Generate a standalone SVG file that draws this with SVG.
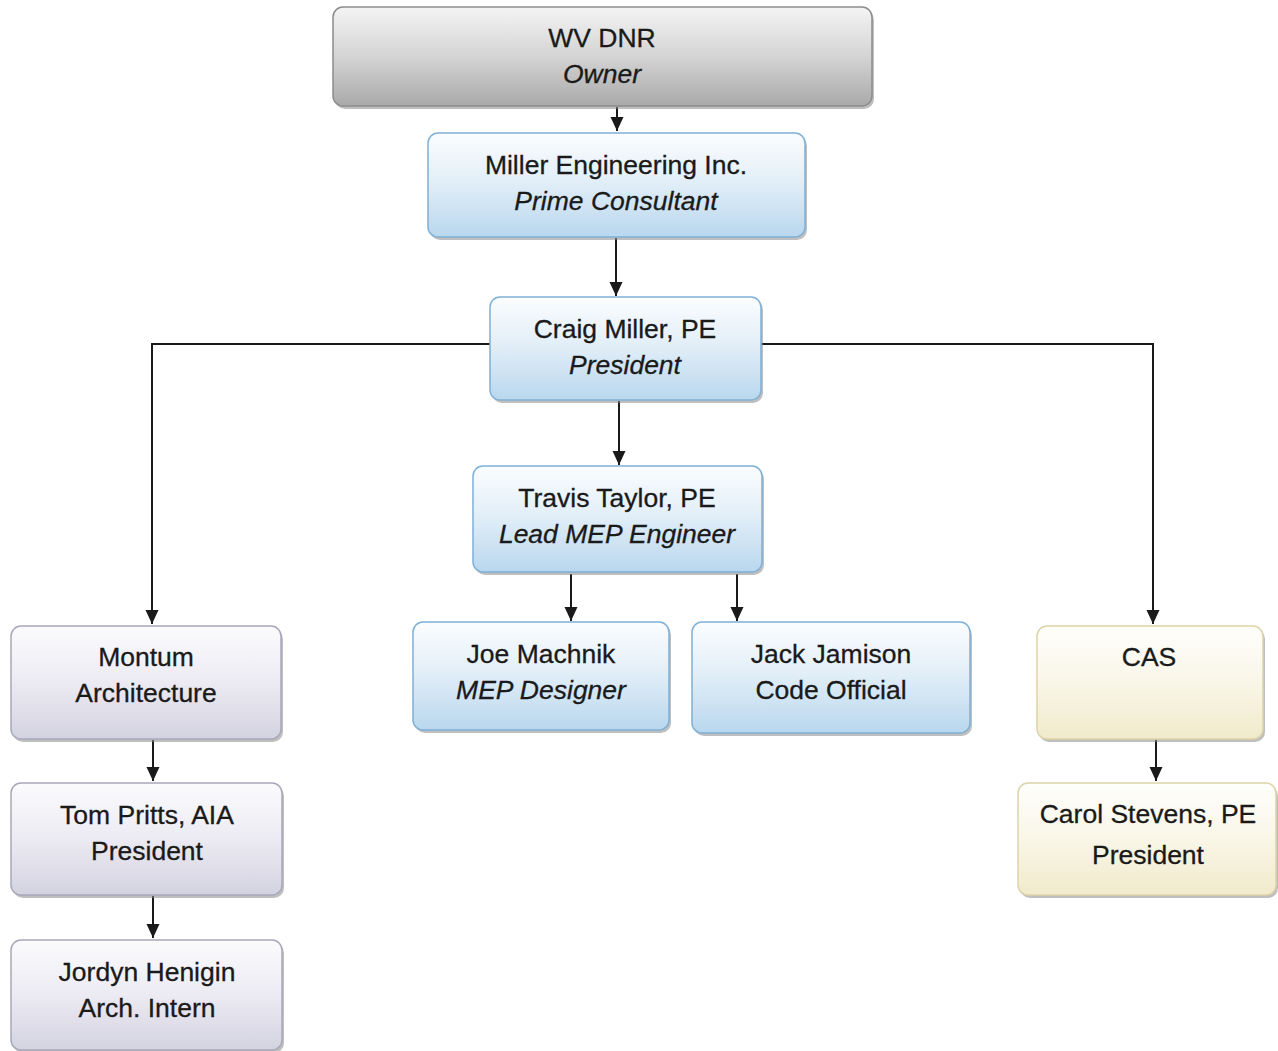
<svg xmlns="http://www.w3.org/2000/svg" width="1278" height="1051" viewBox="0 0 1278 1051">
<defs>
<linearGradient id="gGrey" x1="0" y1="0" x2="0" y2="1"><stop offset="0" stop-color="#f4f4f4"/><stop offset="0.5" stop-color="#d4d4d4"/><stop offset="1" stop-color="#a9a9a9"/></linearGradient>
<linearGradient id="gBlue" x1="0" y1="0" x2="0" y2="1"><stop offset="0" stop-color="#fbfdfe"/><stop offset="0.45" stop-color="#e3eff8"/><stop offset="1" stop-color="#b9d7ee"/></linearGradient>
<linearGradient id="gLav" x1="0" y1="0" x2="0" y2="1"><stop offset="0" stop-color="#fbfbfd"/><stop offset="0.5" stop-color="#ecebf3"/><stop offset="1" stop-color="#d3d2e0"/></linearGradient>
<linearGradient id="gCream" x1="0" y1="0" x2="0" y2="1"><stop offset="0" stop-color="#fefefb"/><stop offset="0.5" stop-color="#f9f6e8"/><stop offset="1" stop-color="#f1eacb"/></linearGradient>
<marker id="arr" viewBox="0 0 14 14" refX="14" refY="7" markerWidth="14" markerHeight="14" markerUnits="userSpaceOnUse" orient="auto"><path d="M0,0.5 L14,7 L0,13.5 z" fill="#1a1a1a"/></marker>
</defs>
<style>
.sh{fill:#8a8a8a;opacity:0.55}
.grey{fill:url(#gGrey);stroke:#8c8c8c;stroke-width:1.5}
.blue{fill:url(#gBlue);stroke:#7fb0d6;stroke-width:1.5}
.lav{fill:url(#gLav);stroke:#a9a8bb;stroke-width:1.5}
.cream{fill:url(#gCream);stroke:#ddd3a8;stroke-width:1.5}
text{font-family:"Liberation Sans",Arial,sans-serif;font-size:26.5px;fill:#1a1a1a;text-anchor:middle;stroke:#1a1a1a;stroke-width:0.3}
.it{font-style:italic}
.c{fill:none;stroke:#1a1a1a;stroke-width:2}
</style>
<g id="connectors">
<line class="c" x1="617" y1="107" x2="617" y2="131" marker-end="url(#arr)"/>
<line class="c" x1="616" y1="238" x2="616" y2="296" marker-end="url(#arr)"/>
<line class="c" x1="619" y1="401" x2="619" y2="465" marker-end="url(#arr)"/>
<polyline class="c" points="490,344 152,344 152,624" marker-end="url(#arr)"/>
<polyline class="c" points="761,344 1153,344 1153,624" marker-end="url(#arr)"/>
<line class="c" x1="571" y1="574" x2="571" y2="621" marker-end="url(#arr)"/>
<line class="c" x1="737" y1="574" x2="737" y2="621" marker-end="url(#arr)"/>
<line class="c" x1="153" y1="740" x2="153" y2="781" marker-end="url(#arr)"/>
<line class="c" x1="153" y1="896" x2="153" y2="938" marker-end="url(#arr)"/>
<line class="c" x1="1156" y1="740" x2="1156" y2="781" marker-end="url(#arr)"/>
</g>
<g id="wvdnr">
<rect class="sh" x="335" y="10" width="539" height="99" rx="10"/>
<rect class="grey" x="333" y="7" width="539" height="99" rx="10"/>
<text x="602" y="47">WV DNR</text>
<text class="it" x="602" y="83">Owner</text>
</g>
<g id="miller">
<rect class="sh" x="430" y="136" width="377" height="104" rx="10"/>
<rect class="blue" x="428" y="133" width="377" height="104" rx="10"/>
<text x="616" y="174">Miller Engineering Inc.</text>
<text class="it" x="616" y="210">Prime Consultant</text>
</g>
<g id="craig">
<rect class="sh" x="492" y="300" width="271" height="103" rx="10"/>
<rect class="blue" x="490" y="297" width="271" height="103" rx="10"/>
<text x="625" y="338">Craig Miller, PE</text>
<text class="it" x="625" y="374">President</text>
</g>
<g id="travis">
<rect class="sh" x="475" y="469" width="289" height="106" rx="10"/>
<rect class="blue" x="473" y="466" width="289" height="106" rx="10"/>
<text x="617" y="507">Travis Taylor, PE</text>
<text class="it" x="617" y="543">Lead MEP Engineer</text>
</g>
<g id="joe">
<rect class="sh" x="415" y="625" width="256" height="108" rx="10"/>
<rect class="blue" x="413" y="622" width="256" height="108" rx="10"/>
<text x="541" y="663">Joe Machnik</text>
<text class="it" x="541" y="699">MEP Designer</text>
</g>
<g id="jack">
<rect class="sh" x="694" y="625" width="278" height="111" rx="10"/>
<rect class="blue" x="692" y="622" width="278" height="111" rx="10"/>
<text x="831" y="663">Jack Jamison</text>
<text x="831" y="699">Code Official</text>
</g>
<g id="montum">
<rect class="sh" x="13" y="629" width="270" height="113" rx="10"/>
<rect class="lav" x="11" y="626" width="270" height="113" rx="10"/>
<text x="146" y="666">Montum</text>
<text x="146" y="702">Architecture</text>
</g>
<g id="tom">
<rect class="sh" x="13" y="786" width="271" height="112" rx="10"/>
<rect class="lav" x="11" y="783" width="271" height="112" rx="10"/>
<text x="147" y="824">Tom Pritts, AIA</text>
<text x="147" y="860">President</text>
</g>
<g id="jordyn">
<rect class="sh" x="13" y="943" width="271" height="110" rx="10"/>
<rect class="lav" x="11" y="940" width="271" height="110" rx="10"/>
<text x="147" y="981">Jordyn Henigin</text>
<text x="147" y="1017">Arch. Intern</text>
</g>
<g id="cas">
<rect class="sh" x="1039" y="629" width="226" height="113" rx="10"/>
<rect class="cream" x="1037" y="626" width="226" height="113" rx="10"/>
<text x="1149" y="666">CAS</text>
</g>
<g id="carol">
<rect class="sh" x="1020" y="786" width="258" height="112" rx="10"/>
<rect class="cream" x="1018" y="783" width="258" height="112" rx="10"/>
<text x="1148" y="823">Carol Stevens, PE</text>
<text x="1148" y="864">President</text>
</g>
</svg>
